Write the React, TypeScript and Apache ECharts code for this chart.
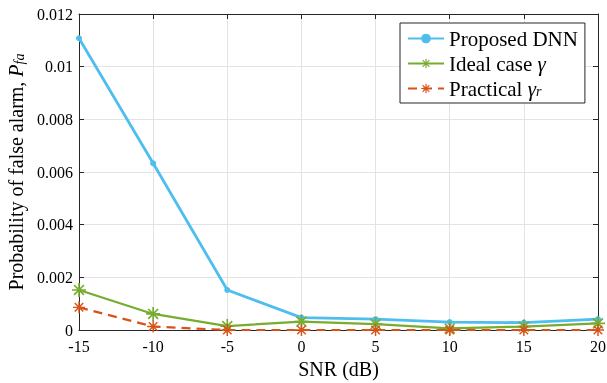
import React, { useEffect, useRef } from "react";
import * as echarts from "echarts";

const snr = [-15, -10, -5, 0, 5, 10, 15, 20];
const proposedDNN = [0.01108, 0.00633, 0.00152, 0.00047, 0.00041, 0.0003, 0.00028, 0.00041];
const idealCase = [0.00152, 0.00061, 0.00015, 0.00032, 0.00022, 0.00006, 0.00013, 0.00025];
const practical = [0.00086, 0.00013, 0.0, 0.0, 0.0, 0.0, 0.0, 0.0];
const seriesNames = ["Proposed DNN", "Ideal case", "Practical"];
const xTicks = { min: -15, max: 20, interval: 5 };
const yTicks = { min: 0, max: 0.012, interval: 0.002 };

function asteriskPath(): string {
  const c = 50, hw = 6, hl = 50;
  let d = "";
  for (let k = 0; k < 4; k++) {
    const a = (k * Math.PI) / 4;
    const ca = Math.cos(a), sa = Math.sin(a);
    const pts = [
      [-hl, -hw],
      [hl, -hw],
      [hl, hw],
      [-hl, hw],
    ].map(([x, y]) => [c + x * ca - y * sa, c + x * sa + y * ca]);
    d += "M" + pts.map((p) => p[0].toFixed(2) + " " + p[1].toFixed(2)).join("L") + "Z";
  }
  return "path://" + d;
}

const FONT = "'Liberation Serif', 'Times New Roman', serif";

export default function App() {
  const ref = useRef<HTMLDivElement>(null);
  useEffect(() => {
    if (!ref.current) return;
    const chart = echarts.init(ref.current, null, { renderer: "svg" });
    const star = asteriskPath();
    const axisColor = "#262626";
    const mkRich = (fs: number, sfs: number) => ({
      n: { fontFamily: FONT, fontSize: fs, color: "#000", lineHeight: 20, verticalAlign: "middle" },
      i: { fontFamily: FONT, fontSize: fs, fontStyle: "italic", color: "#000", lineHeight: 20, verticalAlign: "middle" },
      s: { fontFamily: FONT, fontSize: sfs, fontStyle: "italic", color: "#000", lineHeight: 12, verticalAlign: "bottom" },
    });
    const mk = (arr: number[]) => snr.map((x, i) => [x, arr[i]]);
    chart.setOption({
      animation: false,
      grid: { left: 79, right: 9, top: 14, bottom: 53, outerBoundsMode: "none", containLabel: false },
      legend: {
        left: 400,
        top: 23,
        orient: "vertical",
        itemWidth: 36,
        itemHeight: 12,
        itemGap: 4,
        padding: [5, 7, 4, 7],
        borderColor: "#262626",
        borderWidth: 1,
        borderRadius: 0,
        backgroundColor: "#fff",
        textStyle: { fontFamily: FONT, fontSize: 21, color: "#000", rich: mkRich(21, 14) },
        formatter: (name: string) => {
          if (name === seriesNames[0]) return "{n|Proposed DNN}";
          if (name === seriesNames[1]) return "{n|Ideal case }{i|γ}";
          return "{n|Practical }{i|γ}{s|r}";
        },
      },
      xAxis: [
        {
          type: "value",
          min: xTicks.min,
          max: xTicks.max,
          interval: xTicks.interval,
          name: "SNR (dB)",
          nameLocation: "middle",
          nameGap: 26,
          nameTextStyle: { fontFamily: FONT, fontSize: 20, color: "#000" },
          axisLine: { show: true, onZero: false, lineStyle: { color: axisColor, width: 1 } },
          axisTick: { show: true, inside: true, length: 5, lineStyle: { color: axisColor } },
          axisLabel: { fontFamily: FONT, fontSize: 16, color: "#000", margin: 8 },
          splitLine: { show: true, lineStyle: { color: "#e3e3e3", width: 1 } },
        },
        {
          type: "value",
          position: "top",
          min: xTicks.min,
          max: xTicks.max,
          interval: xTicks.interval,
          axisLine: { show: true, onZero: false, lineStyle: { color: axisColor, width: 1 } },
          axisTick: { show: true, inside: true, length: 5, lineStyle: { color: axisColor } },
          axisLabel: { show: false },
          splitLine: { show: false },
        },
      ],
      yAxis: [
        {
          type: "value",
          min: yTicks.min,
          max: yTicks.max,
          interval: yTicks.interval,
          name: "Probability of false alarm, {i|P}{s|fa}",
          nameLocation: "middle",
          nameGap: 52,
          nameTextStyle: { fontFamily: FONT, fontSize: 20, color: "#000", rich: mkRich(20, 14) },
          axisLine: { show: true, onZero: false, lineStyle: { color: axisColor, width: 1 } },
          axisTick: { show: true, inside: true, length: 5, lineStyle: { color: axisColor } },
          axisLabel: { fontFamily: FONT, fontSize: 16, color: "#000", margin: 6 },
          splitLine: { show: true, lineStyle: { color: "#e3e3e3", width: 1 } },
        },
        {
          type: "value",
          position: "right",
          min: yTicks.min,
          max: yTicks.max,
          interval: yTicks.interval,
          axisLine: { show: true, onZero: false, lineStyle: { color: axisColor, width: 1 } },
          axisTick: { show: true, inside: true, length: 5, lineStyle: { color: axisColor } },
          axisLabel: { show: false },
          splitLine: { show: false },
        },
      ],
      series: [
        {
          name: seriesNames[0],
          type: "line",
          data: mk(proposedDNN),
          symbol: "circle",
          symbolSize: 6,
          color: "#4DBEEE",
          lineStyle: { width: 2.8, color: "#4DBEEE" },
          itemStyle: { color: "#4DBEEE" },
          z: 3,
        },
        {
          name: seriesNames[1],
          type: "line",
          data: mk(idealCase),
          symbol: star,
          symbolSize: 14,
          color: "#77AC30",
          lineStyle: { width: 2.2, color: "#77AC30" },
          itemStyle: { color: "#77AC30" },
          z: 4,
        },
        {
          name: seriesNames[2],
          type: "line",
          data: mk(practical),
          symbol: star,
          symbolSize: 12,
          color: "#D95319",
          lineStyle: { width: 2.2, color: "#D95319", type: [9, 6] },
          itemStyle: { color: "#D95319" },
          z: 5,
        },
      ],
    });
    return () => chart.dispose();
  }, []);
  return <div ref={ref} style={{ position: "fixed", left: 0, top: 0, width: 607, height: 383 }} />;
}
